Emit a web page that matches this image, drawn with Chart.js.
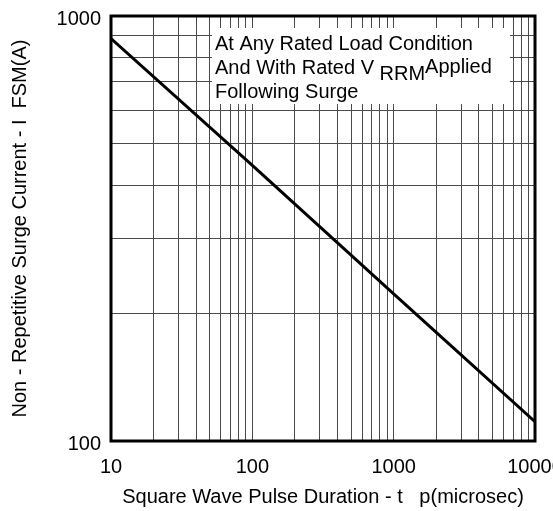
<!DOCTYPE html>
<html>
<head>
<meta charset="utf-8">
<script src="https://cdn.jsdelivr.net/npm/chart.js@4/dist/chart.umd.min.js"></script>
<style>
  html, body { margin: 0; padding: 0; background: #fff; }
  #wrap { width: 553px; height: 511px; position: relative; }
</style>
</head>
<body>
<div id="wrap"><canvas id="surgeChart"></canvas></div>
<script>
  'use strict';

  // values (log-log)
  var pulseDuration = [10, 100, 1000, 10000];
  var surgeCurrent = [885, 445, 222, 111];
  var xGridValues = [10, 20, 30, 40, 50, 60, 70, 80, 90,
    100, 200, 300, 400, 500, 600, 700, 800, 900,
    1000, 2000, 3000, 4000, 5000, 6000, 7000, 8000, 9000, 10000];
  var yGridValues = [100, 200, 300, 400, 500, 600, 700, 800, 900, 1000];
  var xLabelValues = [10, 100, 1000, 10000];
  var yLabelValues = [100, 1000];
  var noteLines = ['At Any Rated Load Condition', 'And With Rated V ', 'Following Surge'];

  var FONT = "'Liberation Sans', Arial, sans-serif";

  var framePlugin = {
    id: 'frame',
    beforeDatasetsDraw: function (chart) {
      var a = chart.chartArea;
      var c = chart.ctx;
      c.save();
      // white note box over the grid
      c.fillStyle = '#fff';
      c.fillRect(a.left + 101, a.top + 12, 298, 76);
      c.fillStyle = '#000';
      c.font = '20px ' + FONT;
      c.textBaseline = 'middle';
      var x0 = a.left + 104;
      c.fillText(noteLines[0], x0, a.top + 28);
      c.fillText(noteLines[1], x0, a.top + 52);
      var w = c.measureText(noteLines[1]).width;
      c.fillText('RRM', x0 + w, a.top + 58);
      var w2 = c.measureText('RRM').width;
      c.fillText('Applied', x0 + w + w2, a.top + 51);
      c.fillText(noteLines[2], x0, a.top + 76);
      c.restore();
    },
    afterDraw: function (chart) {
      var a = chart.chartArea;
      var c = chart.ctx;
      c.save();
      c.strokeStyle = '#000';
      c.lineWidth = 3;
      c.strokeRect(a.left, a.top, a.right - a.left, a.bottom - a.top);
      c.restore();
    }
  };

  var points = pulseDuration.map(function (t, i) {
    return { x: t, y: surgeCurrent[i] };
  });

  new Chart(document.getElementById('surgeChart'), {
    type: 'line',
    data: {
      datasets: [{
        data: points,
        borderColor: '#000',
        borderWidth: 3,
        pointRadius: 0,
        fill: false,
        tension: 0
      }]
    },
    plugins: [framePlugin],
    options: {
      responsive: true,
      maintainAspectRatio: false,
      animation: false,
      layout: { padding: { top: 16, right: 18, left: 0, bottom: 0 } },
      plugins: { legend: { display: false }, tooltip: { enabled: false } },
      scales: {
        x: {
          type: 'logarithmic',
          min: 10,
          max: 10000,
          afterBuildTicks: function (s) {
            s.ticks = xGridValues.map(function (v) { return { value: v }; });
          },
          afterFit: function (s) {
            s.height = 70;
            s.paddingLeft = 0;
            s.paddingRight = 0;
          },
          grid: { color: '#4a4a4a', lineWidth: 1, drawTicks: false },
          border: { display: false },
          ticks: {
            autoSkip: false,
            maxRotation: 0,
            padding: 14,
            color: '#000',
            font: { family: FONT, size: 20 },
            callback: function (v) {
              return xLabelValues.indexOf(v) >= 0 ? String(v) : '';
            }
          },
          title: {
            display: true,
            text: 'Square Wave Pulse Duration - t   p(microsec)',
            color: '#000',
            font: { family: FONT, size: 20 },
            padding: { top: 0, bottom: 2 }
          }
        },
        y: {
          type: 'logarithmic',
          min: 100,
          max: 1000,
          afterBuildTicks: function (s) {
            s.ticks = yGridValues.map(function (v) { return { value: v }; });
          },
          afterFit: function (s) {
            s.width = 111;
            s.paddingTop = 0;
            s.paddingBottom = 0;
          },
          grid: { color: '#4a4a4a', lineWidth: 1, drawTicks: false },
          border: { display: false },
          ticks: {
            autoSkip: false,
            padding: 10,
            labelOffset: 3,
            color: '#000',
            font: { family: FONT, size: 20 },
            callback: function (v) {
              return yLabelValues.indexOf(v) >= 0 ? String(v) : '';
            }
          },
          title: {
            display: true,
            text: 'Non - Repetitive Surge Current - I  FSM(A)',
            color: '#000',
            font: { family: FONT, size: 20 },
            padding: { top: 8, bottom: 0 }
          }
        }
      }
    }
  });
</script>
</body>
</html>
